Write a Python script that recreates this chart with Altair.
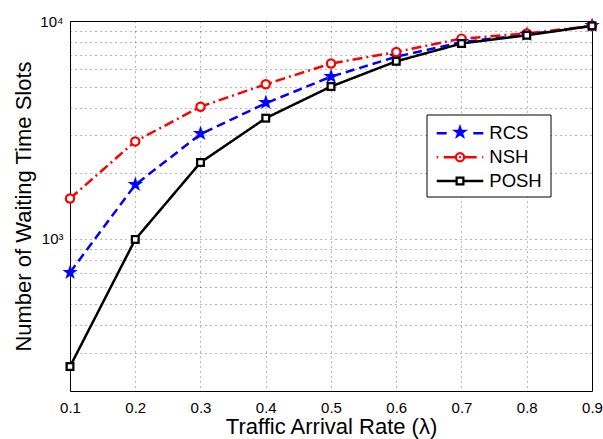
import altair as alt
import pandas as pd

# Mean number of waiting time slots versus traffic arrival rate
rates = [0.1, 0.2, 0.3, 0.4, 0.5, 0.6, 0.7, 0.8, 0.9]
rcs = [700, 1770, 3020, 4190, 5550, 6850, 8000, 8650, 9500]
nsh = [1530, 2800, 4040, 5120, 6380, 7210, 8300, 8760, 9500]
posh = [259, 993, 2240, 3580, 5000, 6530, 7880, 8600, 9500]

series_names = ["RCS", "NSH", "POSH"]
line_colors = ["#0000ff", "#ff0000", "#000000"]
dash_patterns = [[9, 5], [10, 4, 2, 4], [1, 0]]
key_dash_patterns = [[10, 26.6], [1.5, 5.5, 33, 5.5, 2], [1, 0]]

y_tick_values = [200, 300, 400, 500, 600, 700, 800, 900,
                 1000, 2000, 3000, 4000, 5000, 6000, 7000, 8000, 9000, 10000]

FONT = "Liberation Sans"
BLUE, RED, BLACK, WHITE = line_colors + ["#ffffff"]

rows = []
for name, values in zip(series_names, [rcs, nsh, posh]):
    for r, v in zip(rates, values):
        rows.append({"rate": r, "slots": v, "series": name})
df = pd.DataFrame(rows)
key_df = pd.DataFrame({"series": series_names, "row": list(range(len(series_names)))})

x_enc = alt.X("rate:Q", scale=alt.Scale(domain=[0.1, 0.9], nice=False),
              axis=alt.Axis(values=rates, format=".1f",
                            title="Traffic Arrival Rate (λ)",
                            titleY=42.5, titleBaseline="alphabetic",
                            labelPadding=9, labelFlush=False))
y_enc = alt.Y("slots:Q", scale=alt.Scale(type="log", domain=[200, 10000], nice=False),
              axis=alt.Axis(values=y_tick_values,
                            labelExpr="datum.value == 1000 ? '10³' : datum.value == 10000 ? '10⁴' : ''",
                            title="Number of Waiting Time Slots",
                            labelPadding=7, labelFlush=False))

base = alt.Chart(df)


def series(name):
    return base.transform_filter(alt.datum.series == name)


# --- data curves -----------------------------------------------------------
curves = [
    series(name).mark_line(color=col, strokeWidth=2.5, strokeDash=dash).encode(x=x_enc, y=y_enc)
    for name, col, dash in zip(series_names, line_colors, dash_patterns)
]

rcs_marks = [
    series("RCS").mark_text(text="★", font="DejaVu Sans", fontSize=20,
                            color=BLUE, baseline="middle").encode(x=x_enc, y=y_enc)
]
nsh_marks = [
    series("NSH").mark_circle(size=110, color=RED, opacity=1).encode(x=x_enc, y=y_enc),
    series("NSH").mark_circle(size=36, color=WHITE, opacity=1).encode(x=x_enc, y=y_enc),
]
posh_marks = [
    series("POSH").mark_square(size=81, color=BLACK, opacity=1).encode(x=x_enc, y=y_enc),
    series("POSH").mark_square(size=20, color=WHITE, opacity=1).encode(x=x_enc, y=y_enc),
]

plot = alt.layer(*curves, *rcs_marks, *nsh_marks, *posh_marks)

# --- key (boxed, inside the plot area) -------------------------------------
key_y = alt.Y("row:Q", scale=alt.Scale(domain=[0, 2], range=[112.3, 160], nice=False, zero=False),
              axis=None)
kx0, kx1, kxc = 366.7, 413.3, 390


def key_row(name):
    return alt.Chart(key_df).transform_filter(alt.datum.series == name)


key_box = alt.Chart(key_df.iloc[:1]).mark_rect(
    fill=WHITE, stroke=BLACK, strokeWidth=1
).encode(x=alt.value(357), x2=alt.value(481), y=alt.value(94), y2=alt.value(176))

key_lines = [
    key_row(name).mark_rule(color=col, strokeWidth=2.5, strokeDash=dash).encode(
        x=alt.value(kx0), x2=alt.value(kx1), y=key_y)
    for name, col, dash in zip(series_names, line_colors, key_dash_patterns)
]

key_marks = [
    key_row("RCS").mark_text(text="★", font="DejaVu Sans", fontSize=21,
                             color=BLUE, baseline="middle").encode(x=alt.value(kxc), y=key_y),
    key_row("NSH").mark_circle(size=110, color=RED, opacity=1).encode(x=alt.value(kxc), y=key_y),
    key_row("NSH").mark_circle(size=36, color=WHITE, opacity=1).encode(x=alt.value(kxc), y=key_y),
    key_row("NSH").mark_circle(size=5, color=RED, opacity=1).encode(x=alt.value(kxc), y=key_y),
    key_row("POSH").mark_square(size=81, color=BLACK, opacity=1).encode(x=alt.value(kxc), y=key_y),
    key_row("POSH").mark_square(size=20, color=WHITE, opacity=1).encode(x=alt.value(kxc), y=key_y),
]

key_labels = alt.Chart(key_df).mark_text(
    align="left", baseline="middle", font=FONT, fontSize=18.5, color=BLACK
).encode(x=alt.value(419.3), y=key_y, text="series:N")

key = alt.layer(key_box, *key_lines, *key_marks, key_labels)

chart = (
    alt.layer(plot, key)
    .resolve_scale(y="independent")
    .properties(width=522, height=370,
                autosize=alt.AutoSizeParams(type="none"),
                padding={"left": 70, "top": 21, "right": 11, "bottom": 48},
                background="white")
    .configure_view(stroke="black", strokeWidth=1)
    .configure_axis(
        grid=True, gridColor="#000000", gridDash=[1, 4], gridOpacity=0.55,
        domain=False, ticks=False,
        labelFont=FONT, labelFontSize=15, labelColor="black",
        titleFont=FONT, titleFontSize=22, titleFontWeight="normal", titleColor="black",
    )
)

chart.save("out.html", embed_options={"renderer": "svg", "actions": False})
